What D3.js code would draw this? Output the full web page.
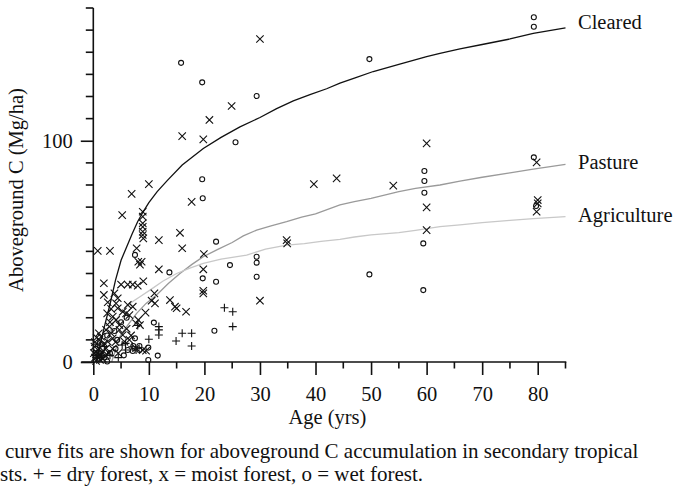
<!DOCTYPE html>
<html>
<head>
<meta charset="utf-8">
<script src="https://cdn.jsdelivr.net/npm/d3@7"></script>
<style>
  html, body { margin: 0; padding: 0; background: #fff; }
  svg { display: block; }
  svg text { font-family: "Liberation Serif", "Times New Roman", Times, serif; fill: #111; }
</style>
</head>
<body>
<svg id="chart" width="678" height="491"></svg>
<script>
// ---- Data ----
const xTicksMajor = [0, 10, 20, 30, 40, 50, 60, 70, 80];
const xTicksMinor = [5, 15, 25, 35, 45, 55, 65, 75, 85];
const yTicksLabelled = [0, 100];
const yTicksMinor = [10, 20, 30, 40, 50, 60, 70, 80, 90, 110, 120, 130, 140, 150, 160];

const curveNames = ["Cleared", "Pasture", "Agriculture"];

const clearedAge = [0.5, 1, 2, 3, 4, 5, 6, 7, 8, 9, 10, 11.5, 13.3, 16, 19.8, 23, 26.4, 30, 33, 36, 39, 42, 44.4, 47, 50.4, 55, 60, 62.4, 66, 70, 75, 79.2, 85];
const clearedC   = [0, 5, 16, 26, 37, 46, 52, 58, 63.5, 68, 72, 77, 82, 89, 96.5, 101.5, 106.3, 110.5, 114.5, 118, 120.8, 123.5, 126, 128.3, 131.3, 134.5, 138, 139.5, 141.5, 143.5, 146, 148.5, 151];

const pastureAge = [3.3, 4.8, 6.3, 7.8, 9.5, 11.4, 13.5, 15.6, 17.7, 19.8, 22.5, 25, 27, 29.4, 32, 34.8, 37.5, 40, 44.4, 47, 50, 55, 58, 62.4, 66, 70, 75, 79.2, 85];
const pastureC   = [0, 11.6, 17, 22, 26.5, 30.3, 35.5, 40, 44, 47.6, 51, 54, 57, 59.6, 61.5, 63.4, 65.5, 67, 71, 72.5, 74, 77, 78.5, 80, 81.8, 83.5, 85.5, 87.2, 89.3];

const agricultureAge = [1.2, 2.4, 3.6, 5, 6.6, 8.4, 10.2, 12.5, 15, 17.5, 19.8, 23, 27.6, 31, 34.8, 38, 41, 44.4, 47, 50, 55, 58, 62.4, 66, 70, 75, 79.2, 85];
const agricultureC   = [0, 10, 17.4, 22, 26.5, 29.5, 32.5, 36.5, 40, 42.5, 44.6, 46.5, 48.3, 51, 52.8, 53.5, 54.5, 55.4, 56.5, 57.5, 58.5, 59.5, 61.2, 62, 63, 64, 64.8, 65.7];

// dry forest (+)
const dryForest = [
  [23.6, 24.5], [25.1, 22.7], [25.1, 16], [11.8, 16], [11.8, 14.5], [11.8, 12.2],
  [10, 10.3], [14.9, 9.5], [16, 13], [17.7, 13], [17.7, 7.2], [8, 16.5],
  [5.8, 8.4], [7, 6.9], [7.7, 5.4], [5.2, 7.7], [5.8, 5.4], [0.5, 3], [1, 5], [1.5, 2],
  [2, 7], [3, 3], [4.5, 2], [0.8, 8]
];
// moist forest (x)
const moistForest = [
  [30, 146], [24.9, 115.7], [20.9, 109.4], [16, 102.1], [19.8, 100.6], [10, 80.4], [6.9, 76],
  [39.7, 80.4], [43.8, 83], [54, 79.7], [60, 98.8], [60, 69.9], [60, 59.6], [79.8, 90.2],
  [80, 73.2], [80, 71.7], [79.8, 67.9],
  [5.2, 66.4], [8.9, 67.9], [8.9, 65.7], [8.9, 62.7], [8.9, 61.1], [8.9, 58.9], [8.9, 57.4], [9, 55.9],
  [17.7, 72.4], [15.6, 58.4], [16, 51.4], [11.8, 55.1], [0.8, 50.2], [3, 50.2], [7.8, 51.4],
  [8.1, 45.3], [8.7, 45.3], [8.4, 44], [19.9, 48.8], [34.8, 55.1], [34.9, 53.6], [30, 27.7],
  [11.8, 41.9], [19.8, 41.9], [19.8, 32.2], [19.8, 31], [1.9, 35.6], [1.9, 30.3],
  [5, 35], [6.2, 35], [7.1, 35], [8, 34.5], [9, 36.5], [11, 31], [11.1, 26.5], [13.8, 28],
  [15, 24.3], [16.7, 22.7], [9.4, 22.3], [7.7, 17.5], [4.4, 28.8], [4.1, 26.5], [4.4, 24.3],
  [5.3, 22.7], [5.9, 22], [6.5, 21.2], [3.5, 20.5], [4.1, 19], [4.7, 16.7], [2.9, 16],
  [2.3, 14.5], [3.2, 13], [3.5, 10.7], [4.7, 14.5], [5.3, 12.2], [5.6, 9.2], [7.7, 6.2],
  [8.9, 5.4], [9.5, 5.1], [1.1, 9.9], [1.4, 11.4], [2, 8.4], [2.6, 9.2], [2.3, 6.2],
  [0.2, 7], [0.5, 4.5], [0.8, 2.5], [1.2, 1], [0.3, 2], [1, 6], [1.5, 4], [1.7, 1.5],
  [6.2, 25.8], [7.1, 25], [8.1, 19], [8.4, 16.7], [14.7, 25], [10.5, 27.7], [0.5, 0.5],
  [0.3, 9], [0.6, 11], [1, 13], [1.3, 3], [1.8, 5], [2.2, 3], [0.1, 4], [2.8, 4], [3.5, 6],
  [4, 9], [4.5, 4], [3, 18], [2.5, 22], [3.2, 24], [6, 15], [6.8, 12], [6.5, 10], [3.8, 31], [2.6, 27]
];
// wet forest (o)
const wetForest = [
  [15.8, 135.2], [19.6, 126.4], [29.4, 120.2], [25.6, 99.3], [19.6, 82.6], [79.3, 155.8],
  [79.3, 151.5], [49.7, 136.9], [59.6, 86.3], [59.6, 81.8], [59.6, 76.5], [79.3, 92.5],
  [79.7, 70.5], [49.7, 39.6], [59.4, 53.6], [59.4, 32.5], [19.7, 74], [7.5, 48.4],
  [22.1, 54.4], [24.6, 43.8], [29.4, 47.6], [29.4, 44.9], [29.4, 38.5], [13.7, 40.5],
  [19.7, 37.8], [22.1, 36.3], [21.8, 14.1], [10.9, 17.8], [7.5, 10.7], [9.9, 6.5],
  [9.9, 0.9], [11.6, 2.9], [2.5, 0.2], [6.2, 5.4], [7.1, 5], [8.3, 5.4], [8.3, 7.2],
  [7.2, 7.2], [1, 3], [2, 2], [0.5, 6], [3, 4], [4, 6],
  [1.5, 8], [2.5, 12], [3.8, 14], [5, 18], [4.3, 10], [6, 20], [5.5, 3]
];

const xTitle = "Age (yrs)";
const yTitle = "Aboveground C (Mg/ha)";
const captionLines = [
  "curve fits are shown for aboveground C accumulation in secondary tropical",
  "sts. + = dry forest, x = moist forest, o = wet forest."
];

// ---- Drawing ----
const FONT = '"Liberation Serif", "Times New Roman", Times, serif';
const svg = d3.select("#chart");
const x = d3.scaleLinear().domain([0, 85]).range([93.3, 565.5]);
const y = d3.scaleLinear().domain([0, 160]).range([362, 8]);
const ink = "#111";

// curves
const line = d3.line().x(d => x(d[0])).y(d => y(d[1])).curve(d3.curveLinear);
const curves = [
  { name: curveNames[0], pts: d3.zip(clearedAge, clearedC), color: "#111", w: 1.3 },
  { name: curveNames[1], pts: d3.zip(pastureAge, pastureC), color: "#9a9a9a", w: 1.3 },
  { name: curveNames[2], pts: d3.zip(agricultureAge, agricultureC), color: "#c8c8c8", w: 1.3 }
];
curves.forEach(c => {
  svg.append("path").attr("d", line(c.pts)).attr("fill", "none")
    .attr("stroke", c.color).attr("stroke-width", c.w);
});

// markers
const gPts = svg.append("g").attr("stroke", ink).attr("fill", "none").attr("stroke-width", 1.1);
const s = 3.7;
gPts.selectAll("path.x").data(moistForest).join("path").attr("class", "x")
  .attr("d", d => { const cx = x(d[0]), cy = y(d[1]);
    return `M${cx - s},${cy - s}L${cx + s},${cy + s}M${cx - s},${cy + s}L${cx + s},${cy - s}`; });
const p = 4;
gPts.selectAll("path.p").data(dryForest).join("path").attr("class", "p")
  .attr("d", d => { const cx = x(d[0]), cy = y(d[1]);
    return `M${cx - p},${cy}L${cx + p},${cy}M${cx},${cy - p}L${cx},${cy + p}`; });
gPts.selectAll("circle").data(wetForest).join("circle")
  .attr("cx", d => x(d[0])).attr("cy", d => y(d[1])).attr("r", 2.5);

// axes
const axW = 1.6;
const gx = svg.append("g").attr("transform", `translate(0,${y(0)})`);
gx.call(d3.axisBottom(x).tickValues(xTicksMajor).tickSize(13).tickSizeOuter(0).tickPadding(11).tickFormat(d3.format("d")));
gx.attr("font-family", FONT);
gx.append("g").selectAll("line").data(xTicksMinor).join("line")
  .attr("x1", d => x(d)).attr("x2", d => x(d)).attr("y1", 0).attr("y2", 6.5);
gx.selectAll("line").attr("stroke", ink).attr("stroke-width", axW);
gx.select(".domain").attr("stroke", ink).attr("stroke-width", axW)
  .attr("d", `M${x(0) - 12},0H${x(85) + 0.8}`);
gx.selectAll(".tick text").attr("font-size", 20.5).attr("fill", ink).style("font-family", FONT);

const gy = svg.append("g").attr("transform", `translate(${x(0)},0)`);
gy.call(d3.axisLeft(y).tickValues(yTicksLabelled).tickSize(12.5).tickSizeOuter(0).tickPadding(8).tickFormat(d3.format("d")));
gy.attr("font-family", FONT);
gy.append("g").selectAll("line").data(yTicksMinor).join("line")
  .attr("x1", -7.5).attr("x2", 0).attr("y1", d => y(d)).attr("y2", d => y(d));
gy.selectAll("line").attr("stroke", ink).attr("stroke-width", axW);
gy.select(".domain").attr("stroke", ink).attr("stroke-width", axW)
  .attr("d", `M0,${y(160)}V${y(0)}`);
gy.selectAll(".tick text").attr("font-size", 20.5).attr("fill", ink).style("font-family", FONT);

// curve labels
const labelY = [28.7, 168.5, 221.8];
curves.forEach((c, i) => {
  svg.append("text").attr("x", 578).attr("y", labelY[i]).attr("font-size", 20.5)
    .style("font-family", FONT).text(c.name);
});

// axis titles
svg.append("text").attr("x", x(42.5) - 2).attr("y", 424).attr("text-anchor", "middle")
  .attr("font-size", 20.5).style("font-family", FONT).text(xTitle);
svg.append("text").attr("transform", "translate(23,190) rotate(-90)").attr("text-anchor", "middle")
  .attr("font-size", 20.5).style("font-family", FONT).text(yTitle);

// caption
svg.append("text").attr("x", 5).attr("y", 458).attr("font-size", 21).style("font-family", FONT).text(captionLines[0]);
svg.append("text").attr("x", 0).attr("y", 481).attr("font-size", 21).style("font-family", FONT).text(captionLines[1]);
</script>
</body>
</html>
